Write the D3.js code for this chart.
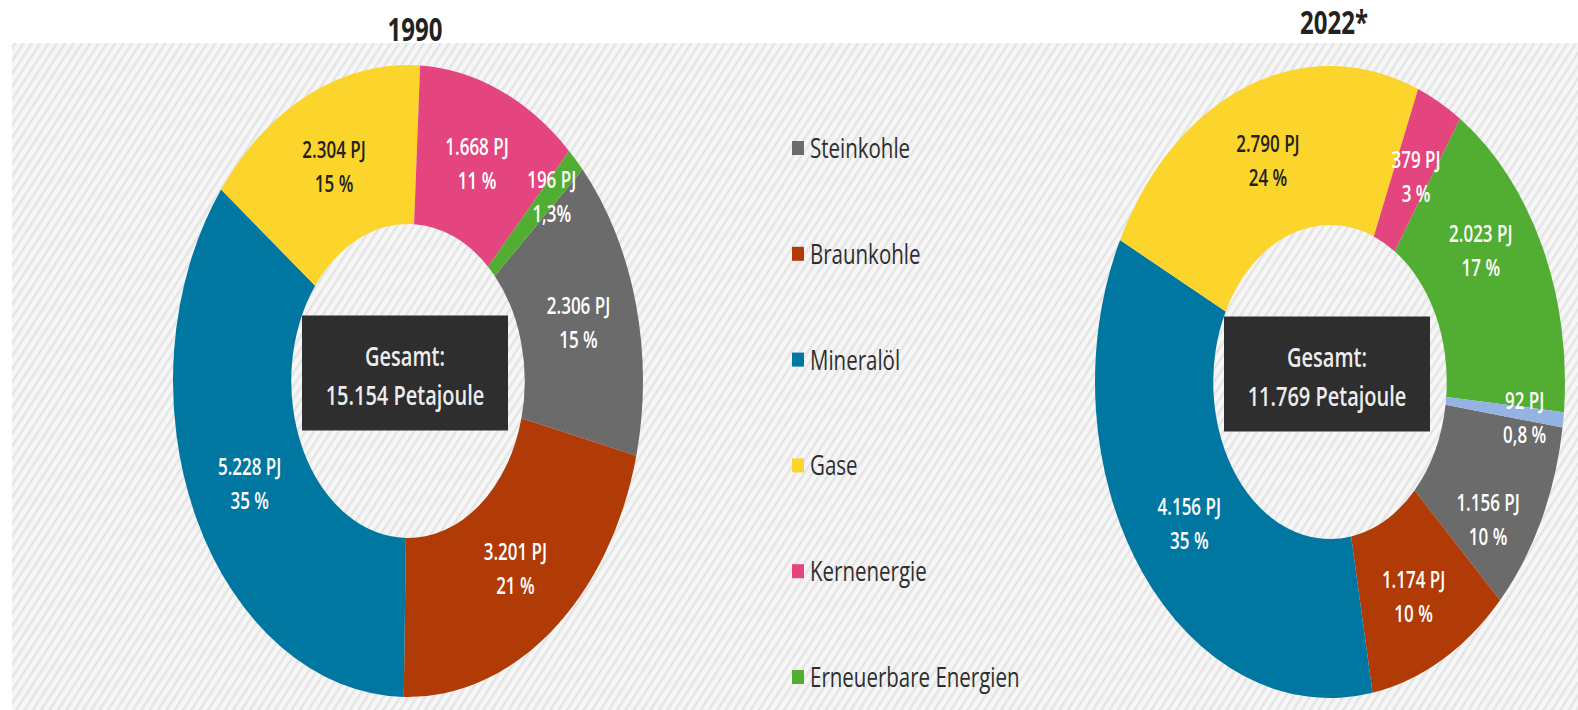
<!DOCTYPE html>
<html><head><meta charset="utf-8">
<script src="https://cdn.jsdelivr.net/npm/d3@7"></script>
<style>body{margin:0;background:#fff} svg{display:block}</style>
</head><body>
<svg id="c" width="1578" height="710"></svg>
<script>
// ---- data ----
const categories = ["Steinkohle","Braunkohle","Mineralöl","Gase","Kernenergie","Erneuerbare Energien","Sonstige"];
const legendCategories = ["Steinkohle","Braunkohle","Mineralöl","Gase","Kernenergie","Erneuerbare Energien"];
const values1990 = [2306, 3201, 5228, 2304, 1668, 196, 0];
const values2022 = [1156, 1174, 4156, 2790, 379, 2023, 92];
const pjLabels1990 = ["2.306 PJ","3.201 PJ","5.228 PJ","2.304 PJ","1.668 PJ","196 PJ",""];
const pjLabels2022 = ["1.156 PJ","1.174 PJ","4.156 PJ","2.790 PJ","379 PJ","2.023 PJ","92 PJ"];
const pctLabels1990 = ["15 %","21 %","35 %","15 %","11 %","1,3%",""];
const pctLabels2022 = ["10 %","10 %","35 %","24 %","3 %","17 %","0,8 %"];
const totalLabels = ["15.154 Petajoule","11.769 Petajoule"];
const yearLabels = ["1990","2022*"];
const colors = ["#6b6b6b","#b03b06","#0077a1","#fbd52c","#e4457e","#52ad33","#94b3e2"];
const labelColors = ["#fff","#fff","#fff","#222","#fff","#fff","#fff"];

// ---- layout ----
const W = 1578, H = 710;
const K = 1.345;               // vertical stretch of the picture
const R = 316, R0 = 157;       // vertical outer / inner radius
const SX = 235 / 316;          // horizontal squeeze
const charts = [
  {cx: 408, cy: 381, start: 48.0, values: values1990, pj: pjLabels1990, pct: pctLabels1990,
   total: totalLabels[0], year: yearLabels[0], tx: 415, ty: 29,
   nudge: {5: [18, -19]}},
  {cx: 1330, cy: 382, start: 98.3, values: values2022, pj: pjLabels2022, pct: pctLabels2022,
   total: totalLabels[1], year: yearLabels[1], tx: 1334, ty: 22,
   nudge: {0: [0, 34], 1: [0, 7], 4: [4, 4], 5: [-8, -30], 6: [20, 7]}}
];
const FONT = "'Open Sans', 'Noto Sans', sans-serif";

const svg = d3.select("#c");
const defs = svg.append("defs");
const pat = defs.append("pattern").attr("id","hatch").attr("patternUnits","userSpaceOnUse")
  .attr("width", 7).attr("height", 7).attr("patternTransform","rotate(33)");
pat.append("rect").attr("width",7).attr("height",7).attr("fill","#f6f6f6");
pat.append("rect").attr("width",2.4).attr("height",7).attr("fill","#e4e4e4");

svg.append("rect").attr("x",0).attr("y",0).attr("width",W).attr("height",H).attr("fill","#fff");
svg.append("rect").attr("x",12).attr("y",43).attr("width",W-12).attr("height",H-43).attr("fill","url(#hatch)");

function stretchedText(g, x, y, str, size, weight, fill, anchor) {
  const t = g.append("g").attr("transform", `translate(${x},${y}) scale(1,${K})`)
    .append("text").attr("x",0).attr("y", size*0.36)
    .attr("text-anchor", anchor || "middle")
    .attr("font-family", FONT).attr("font-size", size).attr("font-weight", weight)
    .attr("fill", fill).text(str);
  return t;
}

const arc = d3.arc().innerRadius(R0).outerRadius(R);

charts.forEach(ch => {
  const toRad = d => d * Math.PI / 180;
  const pie = d3.pie().sort(null).value(d => d)
    .startAngle(toRad(ch.start)).endAngle(toRad(ch.start) + 2 * Math.PI);
  const arcs = pie(ch.values);

  const g = svg.append("g").attr("transform", `translate(${ch.cx},${ch.cy}) scale(${SX},1)`);
  g.selectAll("path").data(arcs).join("path")
    .attr("d", arc).attr("fill", (d, i) => colors[i]);

  // labels
  arcs.forEach((d, i) => {
    if (!ch.values[i]) return;
    const c = arc.centroid(d);
    const n = ch.nudge[i] || [0, 0];
    const px = ch.cx + c[0] * SX + n[0];
    const py = ch.cy + c[1] + n[1];
    stretchedText(svg, px, py - 17, ch.pj[i], 17, 600, labelColors[i]);
    stretchedText(svg, px, py + 17, ch.pct[i], 17, 600, labelColors[i]);
  });

  // center box
  const bx = ch.cx - 3, by = ch.cy - 8;
  svg.append("rect").attr("x", bx - 103).attr("y", by - 57.5).attr("width", 206).attr("height", 115)
    .attr("fill", "#2e2e2e");
  stretchedText(svg, bx, by - 17, "Gesamt:", 20, 600, "#ececec");
  stretchedText(svg, bx, by + 22, ch.total, 20, 600, "#ececec");

  // title
  stretchedText(svg, ch.tx, ch.ty, ch.year, 24, 700, "#222");
});

// legend
const ly = d3.scaleLinear().domain([0, legendCategories.length - 1]).range([148, 677]);
legendCategories.forEach((name, i) => {
  svg.append("rect").attr("x", 792).attr("y", ly(i) - 7).attr("width", 12).attr("height", 14)
    .attr("fill", colors[categories.indexOf(name)]);
  stretchedText(svg, 810, ly(i), name, 20.5, 500, "#2e2e2e", "start");
});
</script>
</body></html>
